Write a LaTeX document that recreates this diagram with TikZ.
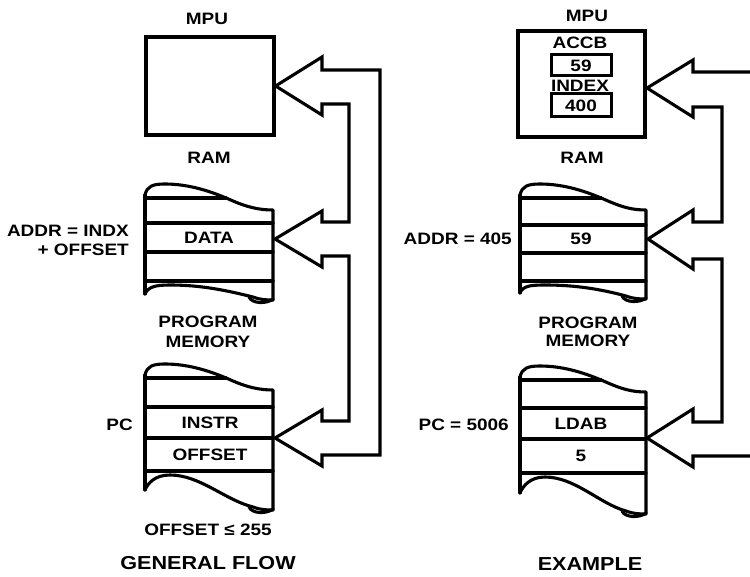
\documentclass[tikz,border=0pt]{standalone}
\usepackage{fontspec}
\setmainfont{Liberation Sans}[FakeStretch=1.15]
\usetikzlibrary{calc}
\tikzset{
  memline/.style={line width=3.1pt, line cap=round, line join=round},
  bus/.style={line width=3.1pt, line join=miter},
  box/.style={draw, line width=3.2pt, inner sep=0pt},
  regbox/.style={draw, line width=3pt, inner sep=0pt, font=\fontsize{16.5}{19}\selectfont\bfseries},
  lab/.style={inner sep=0pt, font=\fontsize{16.5}{19}\selectfont\bfseries},
  ttl/.style={inner sep=0pt, font=\fontsize{18.8}{22}\selectfont\bfseries}
}
% #1 L, #2 R, #3 top line, #4 row1, #5 row2, #6 bottom line, #7 left bottom, #8 right bottom
\newcommand\memshape[8]{%
  \draw[memline] (#1,{#3-3}) -- (#1,#7);
  \draw[memline] (#1,{#3-3}) .. controls ({#1+2},{#3-12}) and ({#1+8},{#3-14}) .. ({#1+20},{#3-14})
     .. controls ({#1+45},{#3-14}) and ({#1+68},{#3-6}) .. ({#1+88},{#3+3})
     .. controls ({#1+102},{#3+9}) and ({#2-14},{#3+12}) .. (#2,{#3+12}) -- (#2,#8);
  \draw[memline] (#1,#3) -- ({#1+81},#3);
  \draw[memline] (#1,#4) -- (#2,#4);
  \draw[memline] (#1,#5) -- (#2,#5);
  \draw[memline] (#1,#6) -- (#2,#6);
  \draw[memline] (#1,#7) .. controls ({#1+3},{#7-7}) and ({#1+10},{#6+4}) .. ({#1+25},{#6+4})
     .. controls ({#1+55},{#6+4}) and ({#1+80},{#8-10}) .. ({#2-20},{#8-3})
     .. controls ({#2-12},{#8}) and ({#2-6},{#8}) .. (#2,#8);
  \draw[memline] ({#2-24},{#8-3}) .. controls ({#2-21},{#8+4}) and ({#2-6},{#8+4}) .. (#2,{#8-1});
}
\begin{document}
\begin{tikzpicture}[x=1pt,y=-1pt]
\useasboundingbox[fill=white] (0,0) rectangle (750,577);

% ---------------- GENERAL FLOW ----------------
\node[lab] (mpuLt) at (207,19) {MPU};
\node[box, minimum width=128pt, minimum height=98pt] (mpuL) at (210,86) {};
\node[lab] (ramLt) at (209,158) {RAM};
\memshape{145}{273}{198}{223}{252}{281}{294}{300}
\node[lab] (data) at (209,238) {DATA};
\node[lab, anchor=east] (addrL1) at (129,231) {ADDR = INDX};
\node[lab, anchor=east] (addrL2) at (129,250) {+ OFFSET};
\node[lab] (pmL1) at (208,322) {PROGRAM};
\node[lab] (pmL2) at (208,342) {MEMORY};
\memshape{145}{273}{378}{407}{438}{471}{490}{510}
\node[lab] (instr) at (210,423) {INSTR};
\node[lab] (offs) at (210,455) {OFFSET};
\node[lab, anchor=east] (pcL) at (133,425) {PC};
\node[lab] (offlim) at (208,530) {OFFSET ≤ 255};
\node[ttl] (gflow) at (208,563) {GENERAL FLOW};

\coordinate (tML) at (mpuL.east);
\coordinate (tRL) at (275,239);
\coordinate (tPL) at (275,438);
\draw[bus] (322,57) -- (tML) -- (322,115) -- (322,104) -- (349,104) -- (349,222) -- (322,222)
  -- (322,211) -- (tRL) -- (322,267) -- (322,256) -- (349,256) -- (349,421) -- (322,421)
  -- (322,410) -- (tPL) -- (322,466) -- (322,455) -- (380,455) -- (380,70) -- (322,70) -- cycle;

% ---------------- EXAMPLE ----------------
\node[lab] (mpuRt) at (587,16) {MPU};
\node[box, minimum width=127pt, minimum height=106pt] (mpuR) at (581.5,84) {};
\node[lab] (accbt) at (580,43) {ACCB};
\node[regbox, minimum width=60pt, minimum height=21pt] (accb) at (581,65.5) {59};
\node[lab] (indext) at (580,86) {INDEX};
\node[regbox, minimum width=60pt, minimum height=23pt] (index) at (581,105.5) {400};
\node[lab] (ramRt) at (582,158) {RAM};
\memshape{520}{646}{198}{225}{253}{281}{293}{299}
\node[lab] (v59) at (581,239) {59};
\node[lab, anchor=east] (addrR) at (512,239) {ADDR = 405};
\node[lab] (pmR1) at (588,323) {PROGRAM};
\node[lab] (pmR2) at (588,341) {MEMORY};
\memshape{520}{646}{380}{408}{439}{473}{493}{514}
\node[lab] (ldab) at (581,424) {LDAB};
\node[lab] (v5) at (581,456) {5};
\node[lab, anchor=east] (pcR) at (509,425) {PC = 5006};
\node[ttl] (example) at (590,564) {EXAMPLE};

\coordinate (tMR) at (647,88);
\coordinate (tRR) at (648,239);
\coordinate (tPR) at (647,438);
\draw[bus] (756,72) -- (693,72) -- (693,60) -- (tMR) -- (693,117) -- (693,107) -- (722,107)
  -- (722,222) -- (693,222) -- (693,210) -- (tRR) -- (693,269) -- (693,259) -- (722,259)
  -- (722,422) -- (693,422) -- (693,409) -- (tPR) -- (693,467) -- (693,456) -- (756,456);
\end{tikzpicture}
\end{document}
